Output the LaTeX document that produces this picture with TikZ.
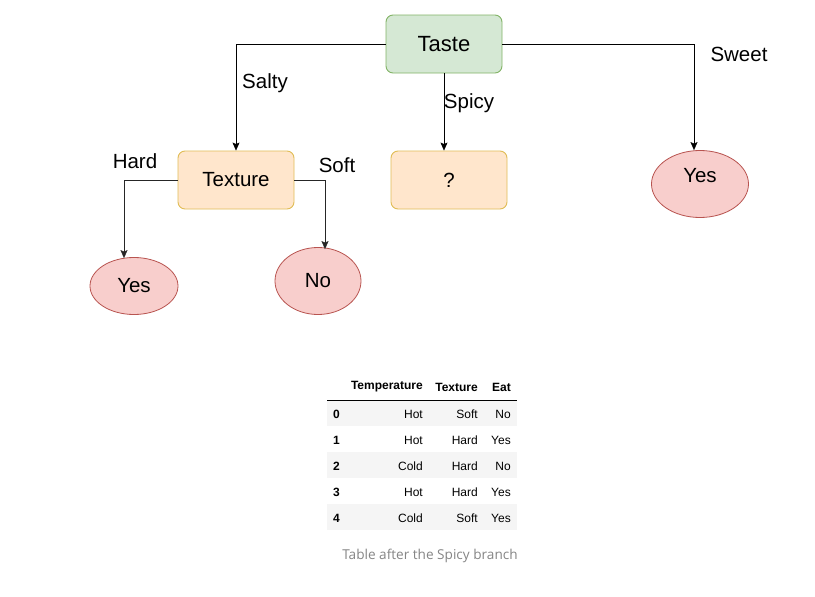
\documentclass[tikz,border=0pt]{standalone}
\usepackage{fontspec}
\setmainfont{Liberation Sans}
\newfontfamily\captionfont{Open Sans}
\usetikzlibrary{arrows.meta,shapes.geometric}
\definecolor{tastefill}{HTML}{D5E8D4}
\definecolor{tastedraw}{HTML}{82B366}
\definecolor{boxfill}{HTML}{FFE6CC}
\definecolor{boxdraw}{HTML}{E0BC55}
\definecolor{leaffill}{HTML}{F8CECC}
\definecolor{leafdraw}{HTML}{B85450}
\definecolor{bandfill}{HTML}{F5F5F5}
\definecolor{captiongray}{HTML}{858585}
\begin{document}
\begin{tikzpicture}[x=1pt, y=-1pt, >={Stealth[length=8pt,width=7pt,inset=1.5pt]},
	big/.style = {font=\fontsize{20.5}{24}\selectfont},
	rootbox/.style = {draw=tastedraw, fill=tastefill, rounded corners=7pt, minimum width=116pt, minimum height=58pt, font=\fontsize{22}{26}\selectfont, line width=0.9pt},
	testbox/.style = {draw=boxdraw, fill=boxfill, rounded corners=7pt, minimum width=116pt, minimum height=58pt, big, line width=0.9pt},
	leaf/.style = {draw=leafdraw, fill=leaffill, ellipse, inner sep=0pt, big, line width=0.8pt},
	branch/.style = {big},
	cell/.style = {font=\fontsize{12}{14}\selectfont, anchor=east, inner sep=0pt},
	head/.style = {cell, font=\fontsize{12}{14}\selectfont\bfseries}]
	\useasboundingbox (0,0) rectangle (815,597);
	\node[rootbox] (taste) at (444,44) {Taste};
	\node[testbox] (texture) at (236,180) {Texture};
	\node[testbox] (spicy) at (449,180) {?};
	\node[leaf, minimum width=97pt, minimum height=67pt, text depth=18pt] (sweetyes) at (700,184) {Yes};
	\node[leaf, minimum width=88pt, minimum height=57pt] (hardyes) at (134,286) {Yes};
	\node[leaf, minimum width=86pt, minimum height=67pt] (softno) at (318,281) {No};
	\node[branch] (salty) at (265,83) {Salty};
	\node[branch] (spicylbl) at (469,103) {Spicy};
	\node[branch] (sweet) at (739,54) {Sweet};
	\node[branch] (hard) at (135,161) {Hard};
	\node[branch] (soft) at (337,165) {Soft};
	\draw[->] (taste.west) -| (texture.north);
	\draw[->] (taste.south) -- (taste.south |- spicy.north);
	\draw[->] (taste.east) -| ([xshift=-6pt]sweetyes.north);
	\draw[->, black!85] (texture.west) -| ([xshift=-10pt,yshift=-1pt]hardyes.north);
	\draw[->, black!85] (texture.east) -| ([xshift=7pt,yshift=-2pt]softno.north);
	\foreach \i in {0,2,4}
		\fill[bandfill] (327,400+26*\i) rectangle (517,426+26*\i);
	\draw[line width=1pt] (327,400) -- (517,400);
	\node[head] (htemp) at (423,387) {Temperature};
	\node[head] (htex) at (478,387) {Texture};
	\node[head] (heat) at (511,387) {Eat};
	\foreach \i/\temp/\tex/\eat in {0/Hot/Soft/No, 1/Hot/Hard/Yes, 2/Cold/Hard/No, 3/Hot/Hard/Yes, 4/Cold/Soft/Yes} {
		\node[head, anchor=west] (idx\i) at (333,414+26*\i) {\i};
		\node[cell] (temp\i) at (423,414+26*\i) {\temp};
		\node[cell] (tex\i) at (478,414+26*\i) {\tex};
		\node[cell] (eat\i) at (511,414+26*\i) {\eat};
	}
	\node[font=\captionfont\fontsize{13.6}{16}\selectfont, text=captiongray] (caption) at (430,556) {Table after the Spicy branch};
\end{tikzpicture}
\end{document}
